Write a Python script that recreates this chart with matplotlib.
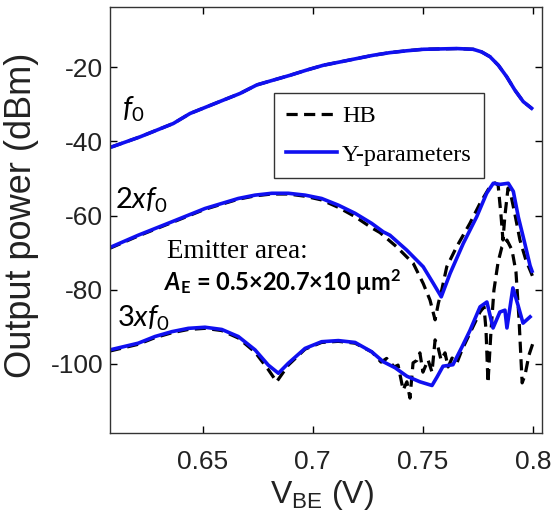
import matplotlib
matplotlib.use('Agg')
import matplotlib.pyplot as plt

# f0 (HB and Y-parameters lie on top of each other)
v_f0 = [0.6088, 0.6216, 0.6367, 0.6443, 0.6594, 0.667, 0.6746, 0.6821, 0.6897, 0.6972, 0.7048, 0.7124, 0.7199,
        0.7275, 0.735, 0.7426, 0.7501, 0.7577, 0.7653, 0.7728, 0.7766, 0.7804, 0.7842, 0.788, 0.7917, 0.7955, 0.7993]
p_f0 = [-41.5, -38.8, -35.2, -32.5, -28.9, -27.1, -24.8, -23.5, -22.2, -20.8, -19.5, -18.6, -17.7,
        -16.8, -16.1, -15.6, -15.2, -15.1, -15.0, -15.2, -15.9, -17.2, -19.5, -22.6, -26.2, -29.3, -31.1]

# 2xf0
v_2f_y = [0.608, 0.6208, 0.636, 0.6511, 0.6662, 0.6738, 0.6814, 0.6889, 0.6965, 0.704, 0.7116, 0.7192, 0.7267,
          0.732, 0.735, 0.7426, 0.7501, 0.7547, 0.7583, 0.7623, 0.7683, 0.7744, 0.7789, 0.7819, 0.785, 0.7887,
          0.791, 0.7933, 0.796, 0.7986, 0.7995]
p_2f_y = [-68.6, -65.3, -61.7, -58.1, -55.4, -54.5, -54.0, -54.0, -54.5, -55.4, -57.2, -59.4, -62.1,
          -64.4, -65.3, -69.3, -73.8, -78.3, -81.9, -75.6, -67.5, -60.3, -54.0, -51.3, -51.6, -51.3,
          -53.5, -60.5, -67.0, -73.5, -75.0]
v_2f_hb = [0.608, 0.6208, 0.636, 0.6511, 0.6662, 0.6738, 0.6814, 0.6889, 0.6965, 0.704, 0.7116, 0.7192, 0.7267,
           0.7305, 0.738, 0.7456, 0.7501, 0.7532, 0.7555, 0.757, 0.7585, 0.7608, 0.7653, 0.7713, 0.7759, 0.7804,
           0.7827, 0.7841, 0.7854, 0.7863, 0.7872, 0.7886, 0.7899, 0.7918, 0.794, 0.7967, 0.7999]
p_2f_hb = [-68.8, -65.5, -61.9, -58.3, -55.6, -54.7, -54.2, -54.2, -54.8, -55.8, -57.8, -60.3, -63.3,
           -64.6, -68.4, -72.9, -78.3, -82.8, -88.1, -83.6, -80.1, -73.8, -68.4, -62.1, -56.7, -52.2,
           -51.2, -51.8, -59.9, -66.6, -59.9, -52.6, -54.5, -59.9, -66.6, -72.0, -76.6]

# 3xf0
v_3f_y = [0.608, 0.6208, 0.6284, 0.636, 0.6435, 0.6511, 0.6587, 0.6662, 0.6738, 0.6798, 0.6844, 0.6889, 0.6965,
          0.704, 0.7116, 0.7192, 0.7267, 0.732, 0.7373, 0.7427, 0.7486, 0.7541, 0.7564, 0.7591, 0.7636, 0.7677,
          0.7713, 0.7759, 0.779, 0.7818, 0.7849, 0.7872, 0.7881, 0.7908, 0.7931, 0.7954, 0.7986]
p_3f_y = [-96.2, -94.4, -92.6, -91.3, -90.4, -90.1, -90.7, -92.6, -96.2, -100.3, -102.5, -99.8, -95.8,
          -94.0, -93.7, -94.2, -96.7, -99.4, -101.0, -103.3, -104.8, -105.8, -103.5, -100.6, -100.2, -95.4,
          -91.0, -84.6, -83.3, -90.3, -86.0, -85.5, -90.3, -79.5, -84.1, -89.0, -87.3]
v_3f_hb = [0.608, 0.6208, 0.6284, 0.636, 0.6435, 0.6511, 0.6587, 0.6662, 0.6738, 0.6798, 0.6836, 0.6889, 0.6965,
           0.704, 0.7116, 0.7192, 0.7269, 0.731, 0.7335, 0.737, 0.7387, 0.741, 0.7427, 0.7441, 0.7455, 0.7473,
           0.7486, 0.75, 0.7523, 0.7541, 0.7555, 0.7568, 0.7582, 0.76, 0.7614, 0.7632, 0.7654, 0.7677, 0.7713,
           0.7759, 0.7777, 0.7786, 0.7795, 0.7809, 0.7822, 0.7841, 0.7858, 0.7881, 0.7904, 0.7922, 0.7936,
           0.795, 0.7963, 0.7981, 0.8004]
p_3f_hb = [-96.5, -94.7, -92.9, -91.6, -90.7, -90.4, -91.0, -93.0, -96.8, -101.5, -104.8, -100.3, -96.0,
           -94.2, -93.9, -94.4, -96.8, -99.5, -98.5, -100.8, -100.3, -107.0, -104.8, -109.2, -99.7, -99.0,
           -97.0, -102.2, -98.9, -102.2, -93.5, -95.4, -98.9, -97.0, -100.8, -98.4, -99.7, -96.2, -91.7,
           -86.0, -84.6, -90.8, -105.1, -90.8, -80.1, -72.5, -68.5, -66.6, -69.3, -75.2, -88.1,
           -105.1, -103.0, -97.6, -93.5]

xticks = [0.65, 0.7, 0.75, 0.8]
xtick_labels = ['0.65', '0.7', '0.75', '0.8']
yticks = [-100, -80, -60, -40, -20]

plt.rcParams['axes.unicode_minus'] = False
plt.rcParams['mathtext.fontset'] = 'custom'
plt.rcParams['mathtext.rm'] = 'Lato'
plt.rcParams['mathtext.it'] = 'Lato:italic'
plt.rcParams['mathtext.bf'] = 'Lato:bold'

fig = plt.figure(figsize=(5.54, 5.18), dpi=100)
ax = fig.add_axes([0.1986, 0.1641, 0.7797, 0.8224])

hb_style = dict(color='black', linestyle=(0, (3.5, 2)), linewidth=2.3)
y_style = dict(color='#1010f0', linewidth=2.6)

ax.plot(v_f0, p_f0, **hb_style)
ax.plot(v_2f_hb, p_2f_hb, **hb_style)
ax.plot(v_3f_hb, p_3f_hb, label='HB', **hb_style)
ax.plot(v_f0, p_f0, **y_style)
ax.plot(v_2f_y, p_2f_y, **y_style)
ax.plot(v_3f_y, p_3f_y, label='Y-parameters', **y_style)

ax.set_xlim(0.608, 0.804)
ax.set_ylim(-118.6, -3.8)
ax.set_xticks(xticks)
ax.set_xticklabels(xtick_labels)
ax.set_yticks(yticks)
ax.tick_params(direction='in', length=5, width=1, top=True, right=True, labelsize=19,
               labelcolor='#222222', labelfontfamily='Liberation Sans')
ax.tick_params(axis='x', pad=12)
ax.tick_params(axis='y', pad=5)
for s in ax.spines.values():
    s.set_linewidth(1.0)
    s.set_color('#333333')

ax.set_ylabel('Output power (dBm)', fontsize=26, family='Liberation Sans', color='#222222')
ax.yaxis.set_label_coords(-0.165, 0.51)
ax.set_xlabel('V$_\\mathregular{BE}$ (V)', fontsize=23, family='Liberation Sans', color='#222222')
ax.xaxis.set_label_coords(0.49, -0.105)

leg = ax.legend(loc='upper left', bbox_to_anchor=(0.3796, 0.798), borderaxespad=0,
                prop={'family': 'Liberation Serif', 'size': 17.5}, fancybox=False,
                edgecolor='#333333', framealpha=1, handlelength=2.1, labelspacing=0.68,
                handletextpad=0.2, borderpad=0.5)
leg.get_frame().set_linewidth(1.0)

ax.text(0.6134, -33.7, '$\\mathit{f}_\\mathrm{0}$', fontsize=21, va='baseline')
ax.text(0.6103, -58.0, '$\\mathit{2xf}_\\mathrm{0}$', fontsize=21, va='baseline')
ax.text(0.6112, -90.0, '$\\mathit{3xf}_\\mathrm{0}$', fontsize=21, va='baseline')
ax.text(0.6339, -71.4, 'Emitter area:', fontsize=19.5, family='Liberation Serif', va='baseline')
ax.text(0.633, -80.1, 'A', fontsize=17, family='Lato', weight='bold', style='italic', va='baseline')
ax.text(0.6398, -80.1, '$_\\mathregular{E}$ = 0.5\u00d720.7\u00d710 \u03bcm$^\\mathregular{2}$', fontsize=17,
        family='Lato', weight='bold', va='baseline')

fig.savefig('out.png', dpi=100)
